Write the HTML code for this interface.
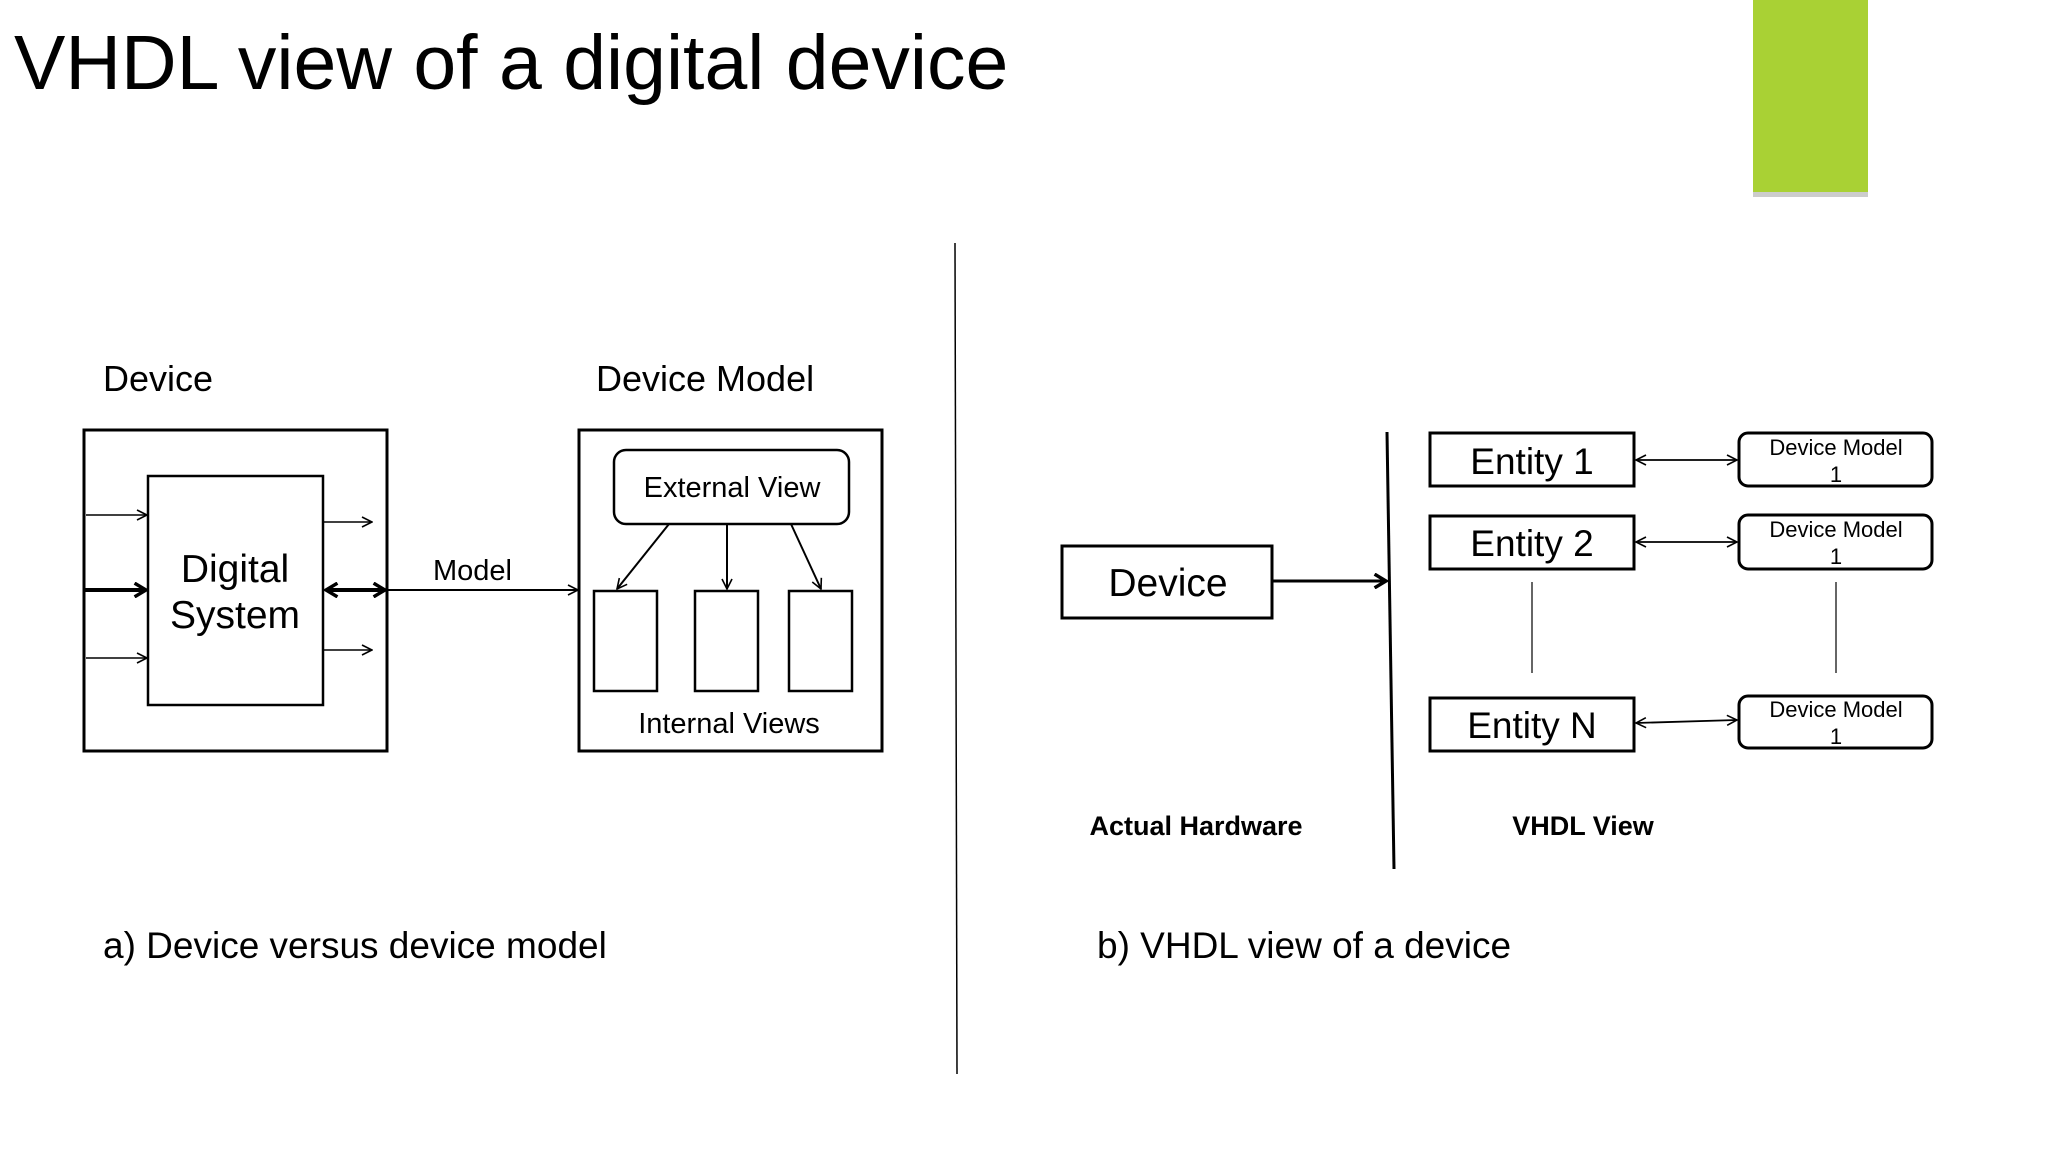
<!DOCTYPE html>
<html><head><meta charset="utf-8"><style>
html,body{margin:0;padding:0;background:#fff;}
svg{display:block;}
text{font-family:"Liberation Sans",Arial,sans-serif;fill:#000;}
</style></head><body>
<svg width="2048" height="1152" viewBox="0 0 2048 1152" xmlns="http://www.w3.org/2000/svg">
<defs>
<marker id="a" viewBox="0 0 12 12" refX="11" refY="6" markerWidth="12" markerHeight="12" markerUnits="userSpaceOnUse" orient="auto-start-reverse">
<path d="M1 1 L11 6 L1 11" fill="none" stroke="#000" stroke-width="1.6"/></marker>
<marker id="b" viewBox="0 0 14 14" refX="12" refY="7" markerWidth="16" markerHeight="16" markerUnits="userSpaceOnUse" orient="auto-start-reverse">
<path d="M2 1 L12 7 L2 13" fill="none" stroke="#000" stroke-width="3"/></marker>
</defs>
<rect width="2048" height="1152" fill="#fff"/>
<text x="14" y="89" font-size="77">VHDL view of a digital device</text>
<rect x="1753" y="192" width="115" height="5" fill="#999" opacity="0.5"/>
<rect x="1753" y="0" width="115" height="192" fill="#a9d134"/>
<line x1="955" y1="243" x2="957" y2="1074" stroke="#000" stroke-width="1.5"/>

<!-- Left diagram -->
<g stroke="#000" fill="none">
<text x="103" y="391" font-size="36" stroke="none">Device</text>
<text x="596" y="391" font-size="36" stroke="none">Device Model</text>
<rect x="84" y="430" width="303" height="321" stroke-width="3"/>
<rect x="148" y="476" width="175" height="229" stroke-width="2.5"/>
<line x1="86" y1="515" x2="147" y2="515" stroke-width="1.5" marker-end="url(#a)"/>
<line x1="86" y1="658" x2="147" y2="658" stroke-width="1.5" marker-end="url(#a)"/>
<line x1="84" y1="590" x2="146" y2="590" stroke-width="4" marker-end="url(#b)"/>
<line x1="323" y1="522" x2="372" y2="522" stroke-width="1.5" marker-end="url(#a)"/>
<line x1="323" y1="650" x2="372" y2="650" stroke-width="1.5" marker-end="url(#a)"/>
<line x1="326" y1="590" x2="385" y2="590" stroke-width="4" marker-start="url(#b)" marker-end="url(#b)"/>
<line x1="387" y1="590" x2="578" y2="590" stroke-width="2" marker-end="url(#a)"/>
<rect x="579" y="430" width="303" height="321" stroke-width="3"/>
<rect x="614" y="450" width="235" height="74" rx="12" stroke-width="2.5"/>
<rect x="594" y="591" width="63" height="100" stroke-width="2.5"/>
<rect x="695" y="591" width="63" height="100" stroke-width="2.5"/>
<rect x="789" y="591" width="63" height="100" stroke-width="2.5"/>
<line x1="669" y1="524" x2="617" y2="589" stroke-width="2" marker-end="url(#a)"/>
<line x1="727" y1="524" x2="727" y2="589" stroke-width="2" marker-end="url(#a)"/>
<line x1="791" y1="524" x2="821" y2="589" stroke-width="2" marker-end="url(#a)"/>
</g>
<text x="235" y="582" font-size="39" text-anchor="middle">Digital</text>
<text x="235" y="628" font-size="39" text-anchor="middle">System</text>
<text x="433" y="580" font-size="29">Model</text>
<text x="732" y="497" font-size="29" text-anchor="middle">External View</text>
<text x="729" y="733" font-size="29" text-anchor="middle">Internal Views</text>
<text x="103" y="958" font-size="37">a) Device versus device model</text>

<!-- Right diagram -->
<g stroke="#000" fill="none">
<rect x="1062" y="546" width="210" height="72" stroke-width="3"/>
<line x1="1272" y1="581" x2="1386" y2="581" stroke-width="3" marker-end="url(#b)"/>
<line x1="1387" y1="432" x2="1394" y2="869" stroke-width="3"/>
<rect x="1430" y="433" width="204" height="53" stroke-width="3"/>
<rect x="1430" y="516" width="204" height="53" stroke-width="3"/>
<rect x="1430" y="698" width="204" height="53" stroke-width="3"/>
<rect x="1739" y="433" width="193" height="53" rx="9" stroke-width="3"/>
<rect x="1739" y="515" width="193" height="54" rx="9" stroke-width="3"/>
<rect x="1739" y="696" width="193" height="52" rx="9" stroke-width="3"/>
<line x1="1636" y1="460" x2="1737" y2="460" stroke-width="1.8" marker-start="url(#a)" marker-end="url(#a)"/>
<line x1="1636" y1="542" x2="1737" y2="542" stroke-width="1.8" marker-start="url(#a)" marker-end="url(#a)"/>
<line x1="1636" y1="723" x2="1737" y2="720" stroke-width="1.8" marker-start="url(#a)" marker-end="url(#a)"/>
<line x1="1532" y1="582" x2="1532" y2="673" stroke-width="1.2"/>
<line x1="1836" y1="582" x2="1836" y2="673" stroke-width="1.2"/>
</g>
<text x="1168" y="596" font-size="39" text-anchor="middle">Device</text>
<text x="1532" y="474" font-size="37" text-anchor="middle">Entity 1</text>
<text x="1532" y="556" font-size="37" text-anchor="middle">Entity 2</text>
<text x="1532" y="738" font-size="37" text-anchor="middle">Entity N</text>
<g font-size="22" text-anchor="middle">
<text x="1836" y="455">Device Model</text><text x="1836" y="482">1</text>
<text x="1836" y="537">Device Model</text><text x="1836" y="564">1</text>
<text x="1836" y="717">Device Model</text><text x="1836" y="744">1</text>
</g>
<text x="1196" y="835" font-size="27" font-weight="bold" text-anchor="middle">Actual Hardware</text>
<text x="1583" y="835" font-size="27" font-weight="bold" text-anchor="middle">VHDL View</text>
<text x="1097" y="958" font-size="37">b) VHDL view of a device</text>
</svg>
</body></html>
